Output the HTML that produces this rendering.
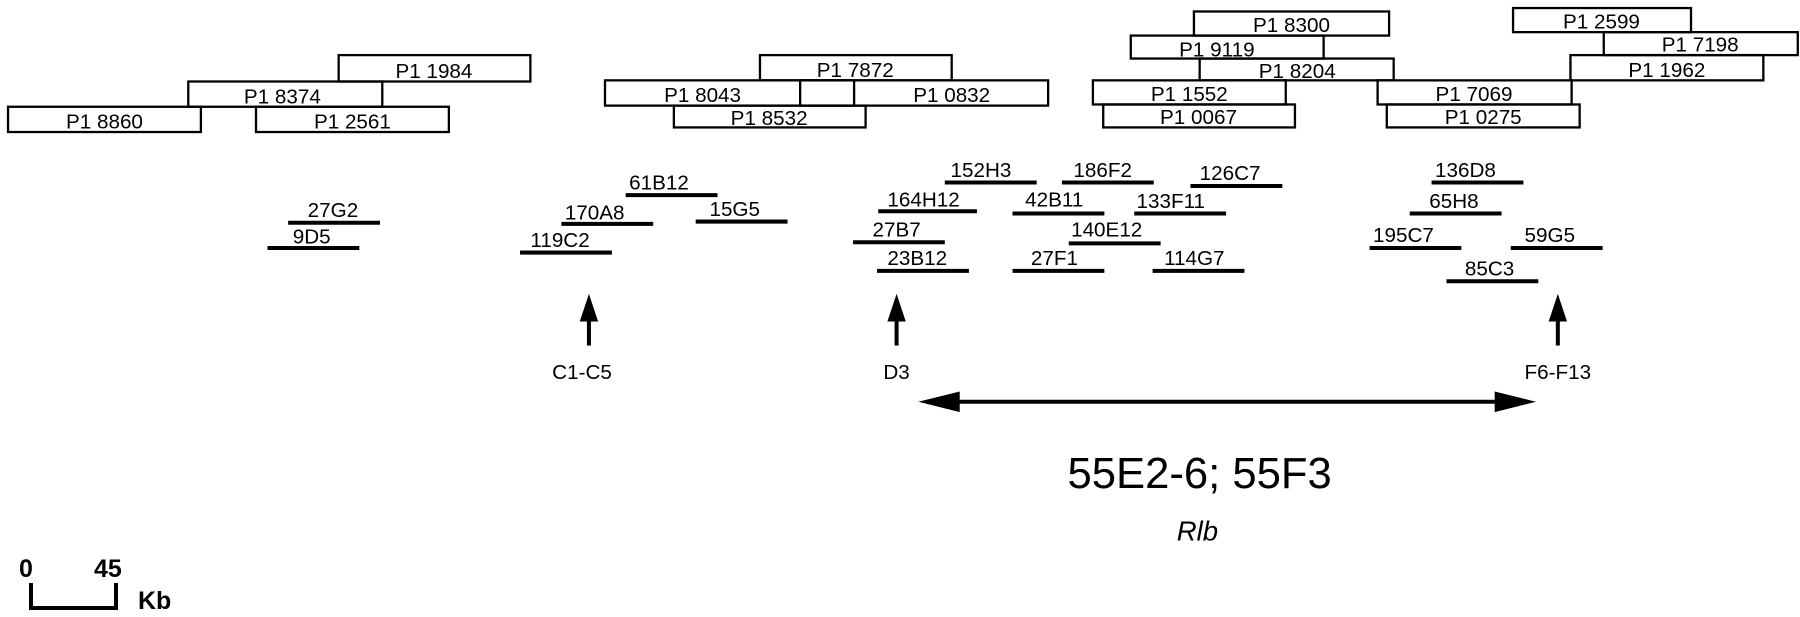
<!DOCTYPE html>
<html><head><meta charset="utf-8"><style>
html,body{margin:0;padding:0;background:#fff;}
svg{display:block;}
text{font-family:"Liberation Sans",sans-serif;fill:#000;}
.b{font-size:18px;}
.m{font-size:18px;}
</style></head><body>
<svg width="1800" height="617" viewBox="0 0 1800 617" xmlns="http://www.w3.org/2000/svg">
<g transform="scale(1.148)">
<g fill="none" stroke="#000" stroke-width="2">
<rect x="295" y="48" width="167" height="23"/>
<rect x="164" y="71" width="169" height="22"/>
<rect x="7" y="93" width="168" height="22"/>
<rect x="223" y="93" width="168" height="22"/>
<rect x="662" y="48" width="167" height="22"/>
<rect x="527" y="70" width="217" height="22"/>
<rect x="697" y="70" width="216" height="22"/>
<rect x="587" y="92" width="167" height="19"/>
<rect x="1040" y="10" width="170" height="21"/>
<rect x="985" y="31" width="168" height="20"/>
<rect x="1045" y="51" width="169" height="19"/>
<rect x="952" y="70" width="168" height="21"/>
<rect x="961" y="91" width="167" height="20"/>
<rect x="1200" y="70" width="169" height="21"/>
<rect x="1208" y="91" width="168" height="20"/>
<rect x="1318" y="7" width="155" height="21"/>
<rect x="1397" y="28" width="169" height="20"/>
<rect x="1368" y="48" width="168" height="22"/>
</g>
<g class="b" text-anchor="middle">
<text x="378" y="68">P1 1984</text>
<text x="246" y="90">P1 8374</text>
<text x="91" y="112">P1 8860</text>
<text x="307" y="112">P1 2561</text>
<text x="745" y="67">P1 7872</text>
<text x="612" y="89">P1 8043</text>
<text x="829" y="89">P1 0832</text>
<text x="670" y="109">P1 8532</text>
<text x="1125" y="28">P1 8300</text>
<text x="1060" y="49">P1 9119</text>
<text x="1130" y="68">P1 8204</text>
<text x="1036" y="88">P1 1552</text>
<text x="1044" y="108">P1 0067</text>
<text x="1284" y="88">P1 7069</text>
<text x="1292" y="108">P1 0275</text>
<text x="1395" y="25">P1 2599</text>
<text x="1481" y="45">P1 7198</text>
<text x="1452" y="67">P1 1962</text>
</g>
<g stroke="#000" stroke-width="3.5">
<line x1="251" y1="194" x2="331" y2="194"/>
<line x1="233" y1="216" x2="313" y2="216"/>
<line x1="545" y1="170" x2="625" y2="170"/>
<line x1="489" y1="195" x2="569" y2="195"/>
<line x1="606" y1="193" x2="686" y2="193"/>
<line x1="453" y1="220" x2="533" y2="220"/>
<line x1="823" y1="159" x2="903" y2="159"/>
<line x1="925" y1="159" x2="1005" y2="159"/>
<line x1="1037" y1="162" x2="1117" y2="162"/>
<line x1="765" y1="184" x2="851" y2="184"/>
<line x1="882" y1="186" x2="962" y2="186"/>
<line x1="988" y1="186" x2="1068" y2="186"/>
<line x1="743" y1="211" x2="823" y2="211"/>
<line x1="931" y1="212" x2="1011" y2="212"/>
<line x1="764" y1="236" x2="844" y2="236"/>
<line x1="882" y1="236" x2="962" y2="236"/>
<line x1="1004" y1="236" x2="1084" y2="236"/>
<line x1="1247" y1="159" x2="1327" y2="159"/>
<line x1="1228" y1="186" x2="1308" y2="186"/>
<line x1="1193" y1="216" x2="1273" y2="216"/>
<line x1="1316" y1="216" x2="1396" y2="216"/>
<line x1="1260" y1="245" x2="1340" y2="245"/>
</g>
<g class="m">
<text x="268" y="189">27G2</text>
<text x="255" y="212">9D5</text>
<text x="548" y="165">61B12</text>
<text x="492" y="191">170A8</text>
<text x="618" y="188">15G5</text>
<text x="462" y="215">119C2</text>
<text x="828" y="154">152H3</text>
<text x="935" y="154">186F2</text>
<text x="1045" y="157">126C7</text>
<text x="773" y="180">164H12</text>
<text x="893" y="180">42B11</text>
<text x="990" y="181">133F11</text>
<text x="760" y="206">27B7</text>
<text x="933" y="206">140E12</text>
<text x="773" y="231">23B12</text>
<text x="898" y="231">27F1</text>
<text x="1014" y="231">114G7</text>
<text x="1250" y="154">136D8</text>
<text x="1245" y="181">65H8</text>
<text x="1196" y="211">195C7</text>
<text x="1328" y="211">59G5</text>
<text x="1276" y="240">85C3</text>
</g>
<g fill="#000" stroke="#000">
<line x1="513" y1="275" x2="513" y2="301" stroke-width="3.5"/>
<polygon points="505,280 521,280 513,256" stroke="none"/>
<line x1="781" y1="275" x2="781" y2="301" stroke-width="3.5"/>
<polygon points="773,280 789,280 781,256" stroke="none"/>
<line x1="1357" y1="275" x2="1357" y2="301" stroke-width="3.5"/>
<polygon points="1349,280 1365,280 1357,256" stroke="none"/>
<line x1="830" y1="350" x2="1310" y2="350" stroke-width="3.5"/>
<polygon points="800,350 836,341 836,359" stroke="none"/>
<polygon points="1338,350 1302,341 1302,359" stroke="none"/>
</g>
<g class="m" text-anchor="middle">
<text x="507" y="330">C1-C5</text>
<text x="781" y="330">D3</text>
<text x="1357" y="330">F6-F13</text>
</g>
<text x="1045" y="425" text-anchor="middle" style="font-size:38px">55E2-6; 55F3</text>
<text x="1043" y="471" text-anchor="middle" style="font-size:24px;font-style:italic">Rlb</text>
</g>
<text x="19" y="577" style="font-size:25px;font-weight:bold">0</text>
<text x="94" y="577" style="font-size:25px;font-weight:bold">45</text>
<path d="M31,583 V608 H116 V583" fill="none" stroke="#000" stroke-width="4"/>
<text x="138" y="609" style="font-size:25px;font-weight:bold">Kb</text>
</svg>
</body></html>
